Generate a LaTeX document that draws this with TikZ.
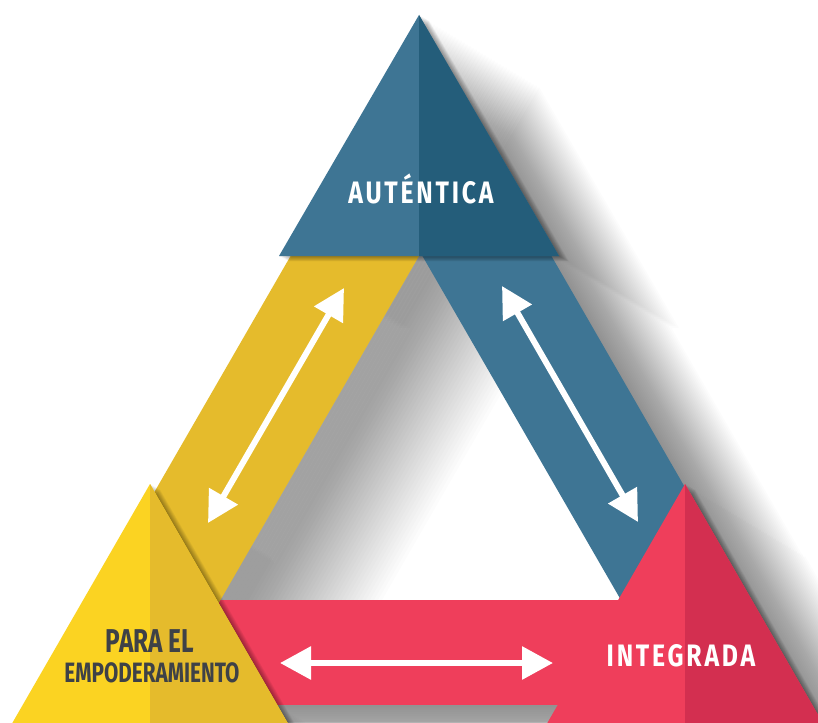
\documentclass[tikz,border=0pt]{standalone}
\usepackage{fontspec}
\usetikzlibrary{arrows.meta}
\newfontfamily\wfont[FakeStretch=0.8,LetterSpace=9]{Fira Sans}
\newfontfamily\dfont[FakeStretch=0.74]{Fira Sans}
\definecolor{bluL}{HTML}{3E7594}
\definecolor{bluD}{HTML}{245D7A}
\definecolor{yelL}{HTML}{FBD322}
\definecolor{yelD}{HTML}{E5BB2C}
\definecolor{redL}{HTML}{EF3E5B}
\definecolor{redD}{HTML}{D32F50}
\definecolor{txt}{HTML}{3E4147}
\tikzset{
  arr/.style={draw=white,line width=6pt,{Triangle[length=31pt,width=32pt,fill=white]}-{Triangle[length=31pt,width=32pt,fill=white]}},
  wlab/.style={text=white,font=\wfont\bfseries\fontsize{31}{31}\selectfont,inner sep=0pt},
  dlab/.style={text=txt,font=\dfont\bfseries,inner sep=0pt},
  bigshad/.style={fill=black,opacity=0.013},
  smallshad/.style={fill=black,opacity=0.045}
}
\def\topT{(419,15) -- (559,256) -- (279,256) -- cycle}
\def\yelT{(150,484) -- (309,760) -- (-9,760) -- cycle}
\def\redT{(685,484) -- (844,760) -- (526,760) -- cycle}
\def\yelB{(299.8,240) -- (428.2,240) -- (214.7,610) -- (86.3,610) -- cycle}
\def\bluB{(413.2,240) -- (542.2,240) -- (755.7,610) -- (626.7,610) -- cycle}
\def\redB{(150,600) -- (690,600) -- (690,705) -- (150,705) -- cycle}
\begin{document}
\begin{tikzpicture}[x=1pt,y=-1pt]
\useasboundingbox (0,0) rectangle (818,722);
\clip (0,0) rectangle (818,722);
\fill[white] (0,0) rectangle (818,722);
% large soft drop shadow of the whole figure
\foreach \k in {1,...,40} {
  \path[bigshad,shift={(\k*3,\k*1.8)}] \topT \yelT \redT \yelB \bluB \redB;
}
% bands
\fill[redL] \redB;
\fill[yelD] \yelB;
\fill[bluL] \bluB;
% small shadows of the triangles on the bands
\foreach \k in {1,...,9} {
  \path[smallshad,shift={(\k*1.1,\k*0.6)}] \topT \yelT \redT;
}
% top triangle
\fill[bluL] \topT;
\fill[bluD] (419,15) -- (559,256) -- (419,256) -- cycle;
% yellow triangle
\fill[yelL] \yelT;
\fill[yelD] (150,484) -- (309,760) -- (150,760) -- cycle;
% red triangle
\fill[redL] \redT;
\fill[redD] (685,484) -- (844,760) -- (685,760) -- cycle;
% labels
\node[wlab] (aut) at (421,189) {AUTÉNTICA};
\node[dlab,font=\dfont\bfseries\fontsize{33}{33}\selectfont] (para) at (150,641) {PARA EL};
\node[dlab,font=\dfont\bfseries\fontsize{28}{28}\selectfont] (emp) at (152,673) {EMPODERAMIENTO};
\node[wlab] (int) at (681,656) {INTEGRADA};
% arrows
\coordinate (y1) at (344,288);
\coordinate (y2) at (208,523);
\coordinate (b1) at (502,286);
\coordinate (b2) at (638,522);
\coordinate (r1) at (280,663);
\coordinate (r2) at (553,663);
\draw[arr] (y2) -- (y1);
\draw[arr] (b1) -- (b2);
\draw[arr] (r1) -- (r2);
\end{tikzpicture}
\end{document}
